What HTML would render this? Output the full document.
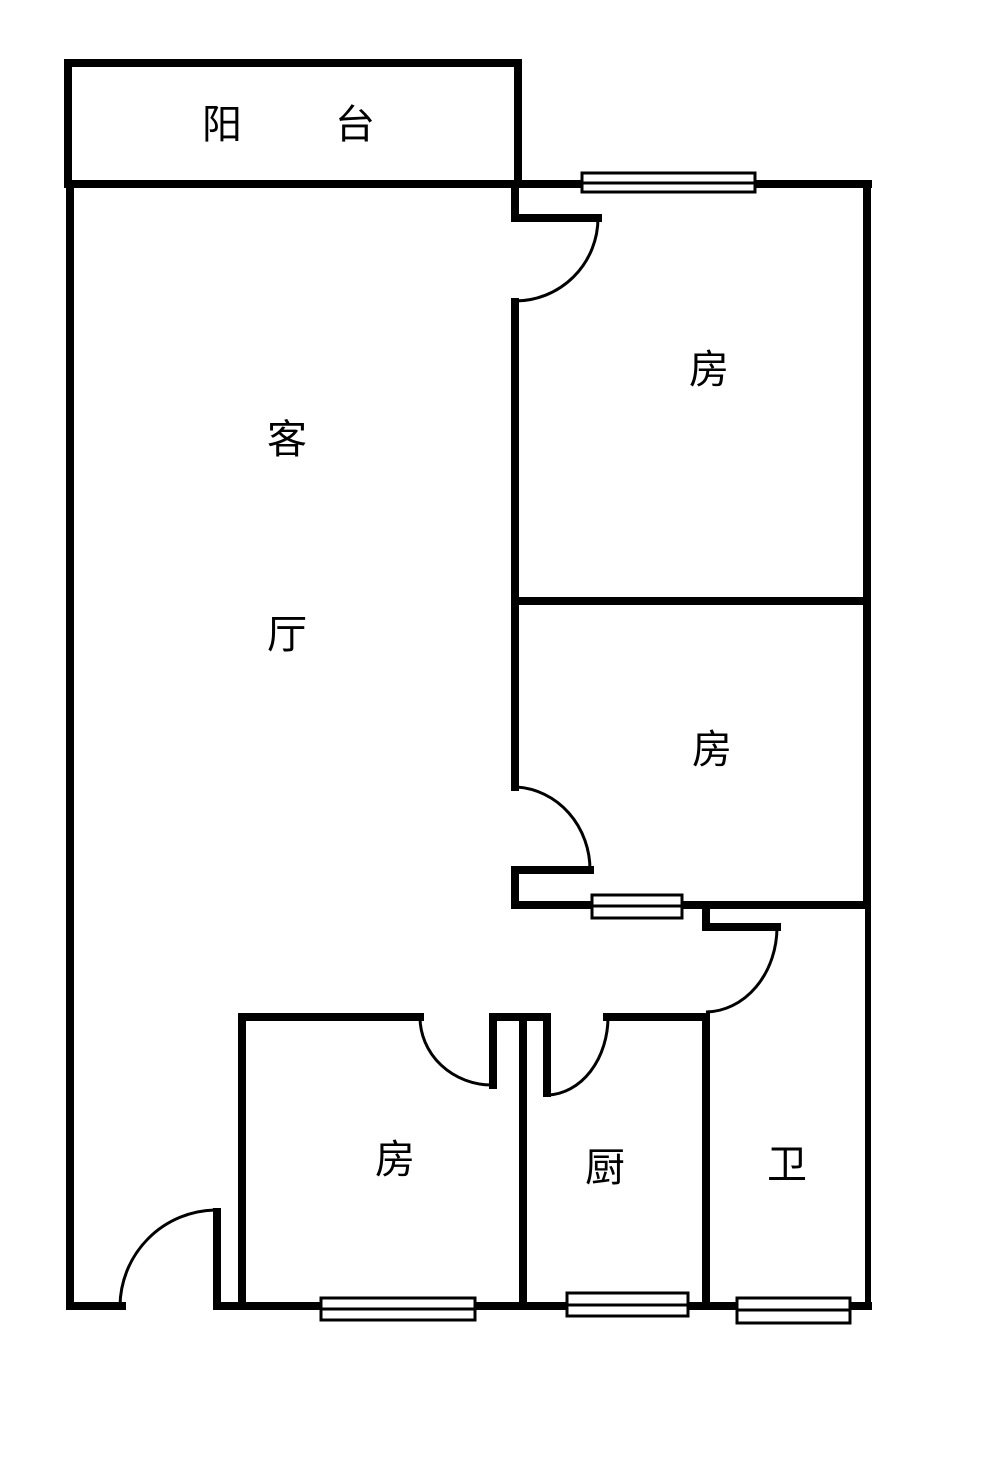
<!DOCTYPE html>
<html><head><meta charset="utf-8"><style>
html,body{margin:0;padding:0;background:#fff;}
svg{display:block;}
text{font-family:"Liberation Sans","Noto Sans CJK SC",sans-serif;font-size:40px;fill:#000;text-anchor:middle;dominant-baseline:central;}
</style></head><body>
<svg width="1000" height="1462" viewBox="0 0 1000 1462" xmlns="http://www.w3.org/2000/svg">
<rect width="1000" height="1462" fill="#fff"/>
<g fill="none" stroke="#000" stroke-width="8" stroke-linecap="square">
<!-- balcony -->
<rect x="68" y="63" width="450" height="121"/>
<!-- outer walls -->
<line x1="70" y1="184" x2="70" y2="1306"/>
<line x1="70" y1="184" x2="868" y2="184"/>
<line x1="867" y1="184" x2="867" y2="905"/>
<line x1="868" y1="905" x2="868" y2="1306" stroke-width="6"/>
<line x1="70" y1="1306" x2="122" y2="1306"/>
<line x1="217" y1="1306" x2="868" y2="1306"/>
<!-- bedroom 1 -->
<polyline points="515,184 515,218 598,218"/>
<line x1="515" y1="302" x2="515" y2="787"/>
<line x1="515" y1="601" x2="866" y2="601"/>
<!-- bedroom 2 door -->
<polyline points="590,870 515,870 515,905 592,905"/>
<line x1="683" y1="905" x2="866" y2="905"/>
<!-- bath door -->
<polyline points="706,905 706,927 777,927"/>
<!-- bottom rooms -->
<line x1="242" y1="1017" x2="242" y2="1306"/>
<line x1="242" y1="1017" x2="420" y2="1017"/>
<polyline points="493,1085 493,1017 547,1017 547,1093"/>
<line x1="607" y1="1017" x2="706" y2="1017"/>
<line x1="523" y1="1024" x2="523" y2="1306"/>
<line x1="706" y1="1017" x2="706" y2="1306"/>
<line x1="217" y1="1212" x2="217" y2="1306"/>
</g>
<!-- door arcs -->
<g fill="none" stroke="#000" stroke-width="3">
<path d="M598,218 A83,83 0 0 1 515,301"/>
<path d="M517,787 A78,83 0 0 1 590,870"/>
<path d="M777,927 A72,85 0 0 1 706,1012"/>
<path d="M420,1017 A72,68 0 0 0 492,1085"/>
<path d="M608,1017 A62,78 0 0 1 548,1095"/>
<path d="M215,1210 A97,97 0 0 0 120,1306"/>
</g>
<!-- windows -->
<g fill="#fff" stroke="#000" stroke-width="3">
<rect x="582" y="173" width="173" height="19"/>
<line x1="582" y1="183" x2="755" y2="183"/>
<rect x="592" y="895" width="90" height="23"/>
<line x1="592" y1="906" x2="682" y2="906"/>
<rect x="321" y="1298" width="154" height="22"/>
<line x1="321" y1="1309" x2="475" y2="1309"/>
<rect x="567" y="1293" width="121" height="23"/>
<line x1="567" y1="1305" x2="688" y2="1305"/>
<rect x="737" y="1298" width="113" height="25"/>
<line x1="737" y1="1310" x2="850" y2="1310"/>
</g>
<text x="222" y="125">阳</text>
<text x="355" y="125">台</text>
<text x="709" y="370">房</text>
<text x="287" y="440">客</text>
<text x="287" y="635">厅</text>
<text x="712" y="750">房</text>
<text x="395" y="1160">房</text>
<text x="605" y="1168">厨</text>
<text x="787" y="1165">卫</text>
</svg>
</body></html>
